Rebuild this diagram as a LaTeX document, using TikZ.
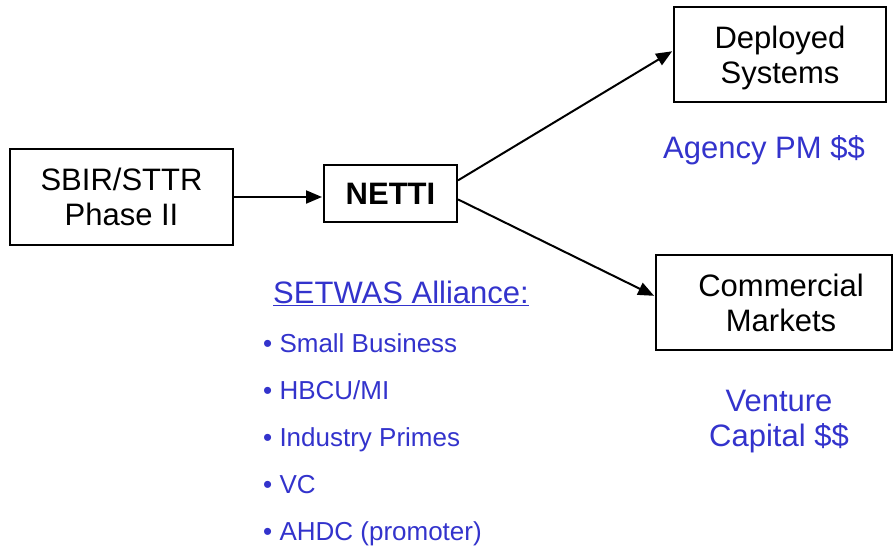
\documentclass[tikz,border=0pt]{standalone}
\usepackage{fontspec}
\setmainfont{Liberation Sans}
\usetikzlibrary{arrows.meta,positioning}
\definecolor{allianceblue}{RGB}{51,51,204}

\begin{document}
\begin{tikzpicture}[x=1pt,y=-1pt,>={Triangle[length=16pt,width=13pt]},shorten >=1pt,node distance=47pt]
    \tikzset{block/.style={draw,rectangle,line width=2pt,align=center,inner sep=0pt,text depth=0pt,font=\fontsize{31}{35}\selectfont}}
    \tikzset{money/.style={text=allianceblue,align=center,font=\fontsize{31}{35}\selectfont}}
    \tikzset{member/.style={text=allianceblue,inner sep=0pt,font=\fontsize{26}{30}\selectfont}}
    \useasboundingbox (0,0) rectangle (894,546);
    \node[block,minimum width=223pt,minimum height=96pt] (sbir) at (121.5,197) {SBIR/STTR\\Phase II};
    \node[block,minimum width=133pt,minimum height=57pt,font=\fontsize{31}{35}\selectfont\bfseries] (netti) at (390.5,193.5) {NETTI};
    \node[block,minimum width=212pt,minimum height=95pt] (deployed) at (780,54.5) {Deployed\\Systems};
    \node[block,minimum width=236pt,minimum height=95pt] (commercial) at (774,302.5) {\hspace*{14pt}Commercial\\\hspace*{14pt}Markets};
    \node[money,anchor=base] (agency) at (764,158) {Agency PM \$\$};
    \node[money] (venture) at (779,421.5) {Venture\\Capital \$\$};
    \node[text=allianceblue,font=\fontsize{31}{35}\selectfont,anchor=base] (setwas) at (401,303) {\underline{SETWAS Alliance:}};
    \node[member,anchor=base west] (small) at (263,352) {• Small Business};
    \node[member,below=of small.base west,anchor=base west] (hbcu) {• HBCU/MI};
    \node[member,below=of hbcu.base west,anchor=base west] (primes) {• Industry Primes};
    \node[member,below=of primes.base west,anchor=base west] (vc) {• VC};
    \node[member,below=of vc.base west,anchor=base west] (ahdc) {• AHDC (promoter)};
    \path[->,line width=2pt]
    (sbir.east)
    edge [] (sbir.east -| netti.west)
    (netti.11)
    edge [] (deployed.178)
    (netti.-5)
    edge [] (commercial.177)
    ;
  \end{tikzpicture}
\end{document}
